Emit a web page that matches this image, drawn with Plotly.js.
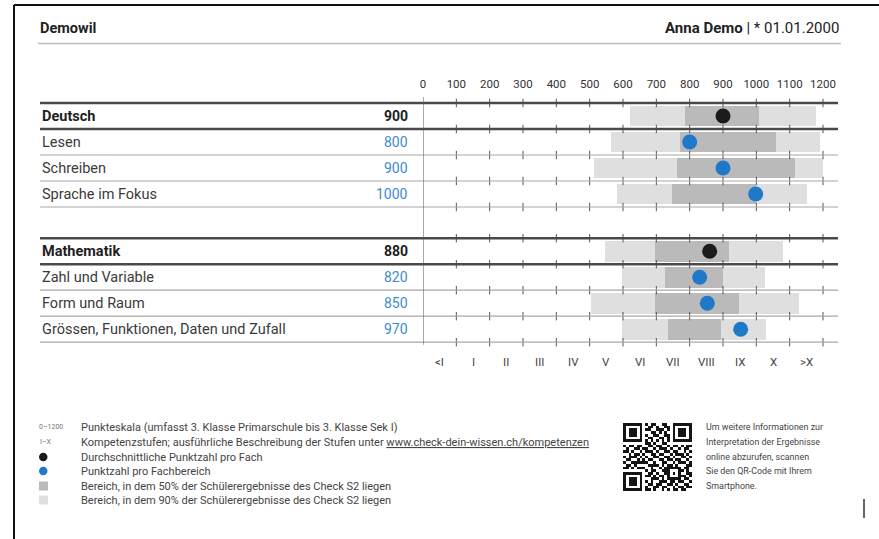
<!DOCTYPE html>
<html>
<head>
<meta charset="utf-8">
<script src="https://cdn.plot.ly/plotly-3.0.1.min.js"></script>
<style>html,body{margin:0;padding:0;background:#fff;}#chart{width:879px;height:539px;}</style>
</head>
<body>
<div id="chart"></div>
<script>
// ---------- data ----------
const xTicks = [0, 100, 200, 300, 400, 500, 600, 700, 800, 900, 1000, 1100, 1200];
const levelLabels = ["<I", "I", "II", "III", "IV", "V", "VI", "VII", "VIII", "IX", "X", ">X"];
const levelCenters = [50, 150, 250, 350, 450, 550, 650, 750, 850, 950, 1050, 1150];

const subjects = ["Deutsch", "Mathematik"];
const subjectScores = [900, 880];
const subjectDots = [900, 860];
const subjectP90Low = [620, 547];
const subjectP90High = [1179, 1080];
const subjectP50Low = [787, 697];
const subjectP50High = [1008, 918];

const deutschAreas = ["Lesen", "Schreiben", "Sprache im Fokus"];
const deutschScores = [800, 900, 1000];
const deutschDots = [800, 900, 998];
const deutschP90Low = [565, 512, 583];
const deutschP90High = [1190, 1200, 1153];
const deutschP50Low = [772, 763, 747];
const deutschP50High = [1060, 1115, 1000];

const mathAreas = ["Zahl und Variable", "Form und Raum", "Grössen, Funktionen, Daten und Zufall"];
const mathScores = [820, 850, 970];
const mathDots = [830, 853, 953];
const mathP90Low = [598, 503, 596];
const mathP90High = [1025, 1128, 1028];
const mathP50Low = [725, 697, 735];
const mathP50High = [900, 947, 895];

const legendTexts = [
  "Punkteskala (umfasst 3. Klasse Primarschule bis 3. Klasse Sek I)",
  "Kompetenzstufen; ausführliche Beschreibung der Stufen unter <span style=\"text-decoration:underline\">www.check-dein-wissen.ch/kompetenzen</span>",
  "Durchschnittliche Punktzahl pro Fach",
  "Punktzahl pro Fachbereich",
  "Bereich, in dem 50% der Schülerergebnisse des Check S2 liegen",
  "Bereich, in dem 90% der Schülerergebnisse des Check S2 liegen"
];
const qrTexts = [
  "Um weitere Informationen zur",
  "Interpretation der Ergebnisse",
  "online abzurufen, scannen",
  "Sie den QR-Code mit Ihrem",
  "Smartphone."
];
const qrRows = [
  "1111111010110011001111111",
  "1000001001101001101000001",
  "1011101011001110101011101",
  "1011101000110101001011101",
  "1011101010011001101011101",
  "1000001001100110101000001",
  "1111111010101010101111111",
  "0000000011010011000000000",
  "1011011001101100101101011",
  "0100110110010111010010110",
  "1101001011101001101100101",
  "0010110100110110010111010",
  "1011101010011001101001101",
  "0110010101100110110110010",
  "1001111110010011001011101",
  "0110100001111010110100011",
  "1101011100100101111110110",
  "0000000010110011100011010",
  "1111111001101001101010011",
  "1000001011010110100011101",
  "1011101000111010111110110",
  "1011101010100111011011001",
  "1011101001101100110100110",
  "1000001010011011001011011",
  "1111111011010010101101100"
];

// ---------- layout helpers ----------
const W = 879, H = 539;
const px = p => p / W;
const py = p => 1 - p / H;
const ROW = 26, ROW0 = 116;           // pixel height of a row, centre of first row
const yTop = -ROW0 / ROW, yBot = (H - ROW0) / ROW;

const groups = [
  {name: subjects[0], score: subjectScores[0], dot: subjectDots[0], lo90: subjectP90Low[0], hi90: subjectP90High[0], lo50: subjectP50Low[0], hi50: subjectP50High[0],
   areas: deutschAreas, scores: deutschScores, dots: deutschDots, l90: deutschP90Low, h90: deutschP90High, l50: deutschP50Low, h50: deutschP50High, start: 0},
  {name: subjects[1], score: subjectScores[1], dot: subjectDots[1], lo90: subjectP90Low[1], hi90: subjectP90High[1], lo50: subjectP50Low[1], hi50: subjectP50High[1],
   areas: mathAreas, scores: mathScores, dots: mathDots, l90: mathP90Low, h90: mathP90High, l50: mathP50Low, h50: mathP50High, start: 5.2}
];

const rows = [];
groups.forEach(g => {
  rows.push({label: g.name, score: g.score, dot: g.dot, lo90: g.lo90, hi90: g.hi90, lo50: g.lo50, hi50: g.hi50, y: g.start, head: true});
  g.areas.forEach((a, i) => rows.push({label: a, score: g.scores[i], dot: g.dots[i], lo90: g.l90[i], hi90: g.h90[i], lo50: g.l50[i], hi50: g.h50[i], y: g.start + i + 1, head: false}));
});

const LIGHT = "#dfdfdf", DARK = "#bababa", BLUE = "#1f78c8", BLACK = "#1b1b1b";
const FONT = "Roboto, 'Open Sans', sans-serif";

const traces = [];
traces.push({type: "bar", orientation: "h", y: rows.map(r => r.y), base: rows.map(r => r.lo90), x: rows.map(r => r.hi90 - r.lo90),
  width: 0.8, marker: {color: LIGHT, line: {width: 0}}, hoverinfo: "skip", showlegend: false});
traces.push({type: "bar", orientation: "h", y: rows.map(r => r.y), base: rows.map(r => r.lo50), x: rows.map(r => r.hi50 - r.lo50),
  width: 0.8, marker: {color: DARK, line: {width: 0}}, hoverinfo: "skip", showlegend: false});

// row lines & tick crosses
const shapes = [];
const lineYs = [];
groups.forEach(g => {
  lineYs.push({y: g.start - 0.5, thick: true});
  lineYs.push({y: g.start + 0.5, thick: true});
  for (let i = 1; i <= g.areas.length; i++) lineYs.push({y: g.start + i + 0.5, thick: false});
});
lineYs.forEach(l => shapes.push({type: "line", xref: "paper", yref: "y", x0: px(40), x1: px(838), y0: l.y, y1: l.y,
  line: {color: l.thick ? "#4a4a4a" : "#a8a8a8", width: l.thick ? 2.4 : 1.2}, layer: "above"}));
shapes.push({type: "line", xref: "x", yref: "y", x0: 0, x1: 0, y0: yTop + 97 / ROW, y1: lineYs[lineYs.length - 1].y + 0.1,
  line: {color: "#555", width: 1}, layer: "above"});

const tx = [], ty = [];
lineYs.forEach(l => xTicks.slice(1).forEach(t => { tx.push(t); ty.push(l.y); }));
traces.push({type: "scatter", mode: "markers", x: tx, y: ty, cliponaxis: false, hoverinfo: "skip", showlegend: false,
  marker: {symbol: "line-ns-open", size: 6, color: "#555", line: {color: "#555", width: 1}}});

// dots
traces.push({type: "scatter", mode: "markers", x: rows.map(r => r.dot), y: rows.map(r => r.y), cliponaxis: false, hoverinfo: "skip", showlegend: false,
  marker: {size: 15, color: rows.map(r => r.head ? BLACK : BLUE), line: {width: 0}}});

// QR code
traces.push({type: "heatmap", xaxis: "x2", yaxis: "y2", z: qrRows.map(r => r.split("").map(Number)),
  colorscale: [[0, "#ffffff"], [1, "#141414"]], zmin: 0, zmax: 1, showscale: false, hoverinfo: "skip"});

// annotations
const ann = [];
rows.forEach(r => {
  ann.push({xref: "paper", yref: "y", x: px(40), y: r.y, xanchor: "left", yanchor: "middle", showarrow: false,
    text: r.head ? "<b>" + r.label + "</b>" : r.label, font: {family: FONT, size: 14.5, color: r.head ? "#1e1e1e" : "#3a3a3a"}});
  ann.push({xref: "paper", yref: "y", x: px(410), y: r.y, xanchor: "right", yanchor: "middle", showarrow: false,
    text: r.head ? "<b>" + r.score + "</b>" : String(r.score), font: {family: FONT, size: 14, color: r.head ? "#1e1e1e" : "#3d8bd0"}});
});
levelLabels.forEach((l, i) => ann.push({xref: "x", yref: "paper", x: levelCenters[i], y: py(362), xanchor: "center", yanchor: "middle",
  showarrow: false, text: l.replace("<", "&lt;").replace(">", "&gt;"), font: {family: FONT, size: 11.5, color: "#444"}}));

ann.push({xref: "paper", yref: "paper", x: px(38), y: py(28), xanchor: "left", yanchor: "middle", showarrow: false,
  text: "<b>Demowil</b>", font: {family: FONT, size: 14.5, color: "#222"}});
ann.push({xref: "paper", yref: "paper", x: px(841), y: py(28), xanchor: "right", yanchor: "middle", showarrow: false,
  text: "<b>Anna Demo</b> | * 01.01.2000", font: {family: FONT, size: 15, color: "#222"}});

const legY = [427, 442, 457, 471, 486, 500];
legendTexts.forEach((t, i) => ann.push({xref: "paper", yref: "paper", x: px(79), y: py(legY[i]), xanchor: "left", yanchor: "middle",
  showarrow: false, text: t, font: {family: FONT, size: 11, color: "#444"}}));
ann.push({xref: "paper", yref: "paper", x: px(37), y: py(legY[0]), xanchor: "left", yanchor: "middle", showarrow: false,
  text: "0–1200", font: {family: FONT, size: 7, color: "#777"}});
ann.push({xref: "paper", yref: "paper", x: px(38), y: py(legY[1]), xanchor: "left", yanchor: "middle", showarrow: false,
  text: "I–X", font: {family: FONT, size: 7, color: "#777"}});
shapes.push({type: "circle", xref: "paper", yref: "paper", x0: px(39), x1: px(47.5), y0: py(legY[2] + 4.3), y1: py(legY[2] - 4.3), fillcolor: BLACK, line: {width: 0}});
shapes.push({type: "circle", xref: "paper", yref: "paper", x0: px(39), x1: px(47.5), y0: py(legY[3] + 4.3), y1: py(legY[3] - 4.3), fillcolor: BLUE, line: {width: 0}});
shapes.push({type: "rect", xref: "paper", yref: "paper", x0: px(39), x1: px(48), y0: py(legY[4] + 4.5), y1: py(legY[4] - 4.5), fillcolor: DARK, line: {width: 0}});
shapes.push({type: "rect", xref: "paper", yref: "paper", x0: px(39), x1: px(48), y0: py(legY[5] + 4.5), y1: py(legY[5] - 4.5), fillcolor: LIGHT, line: {width: 0}});

qrTexts.forEach((t, i) => ann.push({xref: "paper", yref: "paper", x: px(704), y: py(legY[i]), xanchor: "left", yanchor: "middle",
  showarrow: false, text: t, font: {family: FONT, size: 8.9, color: "#444"}}));

// frame, header rule, small mark
shapes.push({type: "line", xref: "paper", yref: "paper", x0: px(14), x1: 1, y0: py(5), y1: py(5), line: {color: "#111", width: 2}});
shapes.push({type: "line", xref: "paper", yref: "paper", x0: px(14), x1: px(14), y0: py(5), y1: 0, line: {color: "#111", width: 2}});
shapes.push({type: "line", xref: "paper", yref: "paper", x0: px(38), x1: px(841), y0: py(43.5), y1: py(43.5), line: {color: "#bdbdbd", width: 1.5}});
shapes.push({type: "line", xref: "paper", yref: "paper", x0: px(864), x1: px(864), y0: py(499), y1: py(518), line: {color: "#333", width: 1.5}});

const layout = {
  width: W, height: H,
  margin: {l: 0, r: 0, t: 0, b: 0, pad: 0},
  paper_bgcolor: "#fff", plot_bgcolor: "rgba(0,0,0,0)",
  barmode: "overlay", bargap: 0,
  showlegend: false,
  xaxis: {domain: [px(423), px(823)], range: [0, 1200], side: "top", anchor: "free", position: py(90),
    tickvals: xTicks, ticktext: xTicks.map(String), ticks: "", showgrid: false, zeroline: false, showline: false,
    tickfont: {family: FONT, size: 11.5, color: "#333"}, fixedrange: true},
  yaxis: {domain: [0, 1], range: [yBot, yTop], visible: false, showgrid: false, zeroline: false, fixedrange: true},
  xaxis2: {domain: [px(623), px(692)], range: [-0.5, 24.5], visible: false, anchor: "y2", fixedrange: true},
  yaxis2: {domain: [py(491), py(423)], range: [24.5, -0.5], visible: false, anchor: "x2", fixedrange: true},
  shapes: shapes,
  annotations: ann
};

Plotly.newPlot("chart", traces, layout, {staticPlot: true, displayModeBar: false});
</script>
</body>
</html>
